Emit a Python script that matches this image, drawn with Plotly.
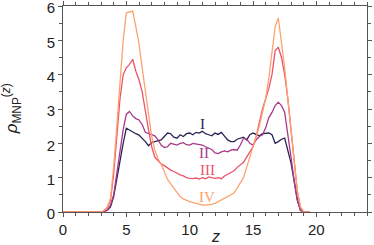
import plotly.graph_objects as go

z = [0.0] + [3.0 + 0.25 * i for i in range(65)] + [19.5]

rho_I = [0.0,
    0.0, 0.02, 0.05, 0.15, 0.45, 1.0, 1.5, 2.0, 2.44, 2.38, 2.32, 2.28, 2.24, 2.15, 2.05, 1.93,
    2.02, 2.05, 2.07, 2.1, 2.2, 2.3, 2.28, 2.18, 2.15, 2.25, 2.2, 2.28, 2.3, 2.25, 2.32, 2.3,
    2.35, 2.28, 2.25, 2.22, 2.3, 2.26, 2.32, 2.2, 2.1, 2.05, 2.05, 2.12, 2.15, 2.18, 2.1, 2.25,
    2.3, 2.25, 2.22, 2.28, 2.3, 2.3, 2.25, 2.0, 2.05, 2.12, 2.15, 1.8, 1.43, 0.9, 0.35, 0.05,
    0.0, 0.0]
rho_II = [0.0,
    0.0, 0.02, 0.05, 0.2, 0.5, 1.1, 1.8, 2.4, 2.85, 2.93, 2.8, 2.72, 2.68, 2.55, 2.32, 2.28,
    2.25, 2.22, 2.1, 1.95, 1.88, 1.9, 2.0, 1.98, 1.95, 2.0, 2.02, 1.96, 1.95, 2.0, 1.98, 1.95,
    1.95, 1.9, 1.85, 1.82, 1.72, 1.7, 1.75, 1.78, 1.75, 1.8, 1.82, 1.8, 1.95, 2.15, 2.12, 2.0,
    1.95, 2.1, 2.2, 2.25, 2.45, 2.75, 2.9, 3.1, 3.2, 3.1, 2.9, 2.3, 1.6, 0.9, 0.35, 0.05,
    0.0, 0.0]
rho_III = [0.0,
    0.0, 0.03, 0.12, 0.35, 1.1, 2.2, 3.3, 4.0, 4.2, 4.3, 4.45, 4.1, 3.85, 3.5, 2.9, 2.4,
    1.9, 1.6, 1.5, 1.4, 1.35, 1.28, 1.22, 1.18, 1.12, 1.08, 1.05, 1.0, 0.98, 0.97, 0.99, 0.96,
    1.0, 0.97, 1.02, 1.0, 0.98, 1.0, 0.97, 1.05, 1.1, 1.15, 1.2, 1.3, 1.38, 1.45, 1.6, 1.75,
    1.9, 2.2, 2.6, 3.0, 3.3, 3.6, 4.0, 4.7, 4.8, 4.5, 4.0, 3.3, 2.4, 1.4, 0.6, 0.12,
    0.0, 0.0]
rho_IV = [0.0,
    0.0, 0.05, 0.15, 0.4, 1.3, 2.5, 3.8, 5.0, 5.8, 5.82, 5.85, 5.4, 4.9, 4.2, 3.5, 2.8,
    2.2, 1.8, 1.55, 1.4, 1.15, 0.95, 0.82, 0.7, 0.55, 0.45, 0.38, 0.33, 0.3, 0.28, 0.25, 0.22,
    0.2, 0.2, 0.2, 0.22, 0.25, 0.3, 0.35, 0.4, 0.45, 0.5, 0.55, 0.7, 0.85, 1.0, 1.3, 1.6,
    1.9, 2.2, 2.5, 2.9, 3.3, 3.9, 4.7, 5.4, 5.65, 5.0, 4.2, 3.3, 2.4, 1.4, 0.6, 0.15,
    0.0, 0.0]

series_names = ["I", "II", "III", "IV"]
series_values = [rho_I, rho_II, rho_III, rho_IV]
series_colors = ["#2b2256", "#a8398a", "#ea546b", "#fda26d"]
label_pos = [(11.0, 2.55), (11.1, 1.72), (11.4, 1.22), (11.4, 0.44)]

fig = go.Figure()
for name, vals, col in zip(series_names, series_values, series_colors):
    fig.add_trace(go.Scatter(x=z, y=vals, mode="lines", name=name,
                             line=dict(color=col, width=1.3), showlegend=False))

for name, col, (lx, ly) in zip(series_names, series_colors, label_pos):
    fig.add_annotation(x=lx, y=ly, text=name, showarrow=False,
                       font=dict(family="Liberation Serif", size=15, color=col))

# axis titles as annotations for exact placement
fig.add_annotation(xref="paper", yref="paper", x=0.5, y=-0.068, yanchor="top",
                   text="<i>z</i>", showarrow=False,
                   font=dict(family="Liberation Sans", size=16, color="#222"))
fig.add_annotation(xref="paper", yref="paper", x=-0.17, y=0.5, xanchor="center",
                   yanchor="middle", textangle=-90,
                   text="<i>ρ</i><sub>MNP</sub><sup>(<i>z</i>)</sup>", showarrow=False,
                   font=dict(family="Liberation Sans", size=17, color="#222"))

axis_common = dict(showline=True, linecolor="#555", linewidth=1, mirror="ticks",
                   ticks="outside", ticklen=4, tickcolor="#555", tickwidth=1,
                   showgrid=False, zeroline=False, automargin=False,
                   ticklabeloverflow="allow",
                   tickfont=dict(family="Liberation Sans", size=15, color="#222"))

fig.update_xaxes(range=[0, 24], dtick=5, tick0=0,
                 minor=dict(dtick=1, ticklen=3, ticks="outside", tickcolor="#555"),
                 **axis_common)
fig.update_yaxes(range=[0, 6], dtick=1, tick0=0, ticklabelshift=2,
                 minor=dict(dtick=0.5, ticklen=3, ticks="outside", tickcolor="#555"),
                 **axis_common)

fig.update_layout(width=374, height=245, margin=dict(l=63, r=7, t=6, b=33),
                  plot_bgcolor="white", paper_bgcolor="white")

fig.write_html("out.html", config={"displayModeBar": False},
               post_script="document.body.style.margin='0';document.body.style.padding='0';")
